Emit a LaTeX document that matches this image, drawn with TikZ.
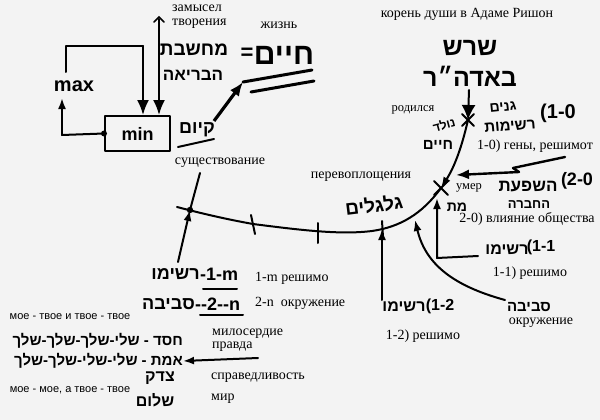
\documentclass[tikz,border=0pt]{standalone}
\usepackage{fontspec}
\setmainfont{Liberation Serif}
\newfontfamily\heb[Script=Hebrew]{Liberation Sans}
\newfontfamily\sansf{Liberation Sans}
\TeXXeTstate=1
\usetikzlibrary{arrows.meta,calc}
\definecolor{bg}{RGB}{243,243,243}
\newcommand\hb[2]{{\heb\bfseries\fontsize{#1}{#1}\selectfont\beginR #2\endR}}
\newcommand\lt[2]{{\sansf\bfseries\fontsize{#1}{#1}\selectfont #2}}
\begin{document}
\begin{tikzpicture}[x=1pt,y=-1pt,
  ln/.style={line width=2pt, line cap=round, line join=round},
  thk/.style={line width=3pt, line cap=round},
  arr/.style={ln, -{Latex[length=11pt,width=8pt]}},
  bigarr/.style={ln, -{Latex[length=15pt,width=12pt]}},
  lbl/.style={font=\fontsize{14}{16}\selectfont, inner sep=0pt},
  smlbl/.style={font=\fontsize{12.5}{14}\selectfont, inner sep=0pt},
  sm/.style={font=\sansf\fontsize{11}{13}\selectfont, inner sep=0pt},
  hw/.style={inner sep=0pt}]
\useasboundingbox[fill=bg] (0,0) rectangle (600,420);

% ---------- top left: min / max loop ----------
\node[draw, ln, minimum width=65pt, minimum height=35pt, inner sep=0pt] (minb) at (137.5,133.5) {};
\node[hw] (mintxt) at (minb.center) {\lt{18}{min}};
\node[hw] (maxtxt) at (74,86) {\lt{20}{max}};
\fill (minb.west) circle (3pt);
\coordinate (lp1) at (62,135);
\coordinate (lp2) at (62,98);
\coordinate (lp3) at (66,72);
\coordinate (lp4) at (66,46);
\coordinate (lp5) at (143,46);
\draw[ln] (minb.west) -- (lp1);
\draw[arr] (lp1) -- (lp2);
\draw[ln] (lp3) -- (lp4) -- (lp5);
\draw[bigarr] (lp5) -- (lp5 |- minb.north);

% ---------- замысел творения ----------
\coordinate (zt) at (159,19);
\draw[bigarr] (zt) -- (zt |- minb.north);
\draw[line width=1.5pt, line cap=round] (154,22) -- (159,17) -- (164,22);
\node[lbl, anchor=west] (zam1) at (172,8) {замысел};
\node[lbl, anchor=west] (zam2) at (172,24) {творения};
\node[hw] (mach) at (194,50) {\hb{19}{מחשבת}};
\node[hw] (bria) at (193,75) {\hb{17}{הבריאה}};

% ---------- жизнь ----------
\node[lbl] (zhizn) at (279,25) {жизнь};
\node[hw] (eq) at (247,54) {\lt{22}{=}};
\node[hw] (chaim) at (284,55) {\hb{30}{חיים}};
\coordinate (l1a) at (243,82); \coordinate (l1b) at (312,70);
\coordinate (l2a) at (251,92); \coordinate (l2b) at (314,81);
\draw[thk] (l1a) -- (l1b);
\draw[thk] (l2a) -- (l2b);

% ---------- קיום / существование ----------
\node[hw] (kiyum) at (197,130) {\hb{18}{קיום}};
\draw[ln] (178,147) -- (214,139);
\coordinate (ka) at (214,121);
\draw[line width=3.2pt, -{Latex[length=14pt,width=11pt]}] (ka) -- (l1a);
\node[lbl] (sush) at (220,163) {существование};

% ---------- main curve ----------
\coordinate (born) at (468,120);
\coordinate (died) at (441,188);
\coordinate (dot) at (190,210);
\draw[ln, -{Latex[length=11pt,width=8pt]}] (born) .. controls (462,146) and (455,166) .. (died);
\draw[ln] (died) .. controls (422,214) and (400,227) .. (372,231)
              .. controls (340,235) and (300,230) .. (253,224)
              .. controls (225,219) and (200,213) .. (177,207);
\fill (dot) circle (3.2pt);
% crosses
\draw[ln] ($(born)+(-6,-6)$) -- ($(born)+(6,6)$);
\draw[ln] ($(born)+(6,-6)$) -- ($(born)+(-6,6)$);
\draw[ln] ($(died)+(-7,-7)$) -- ($(died)+(7,7)$);
\draw[ln] ($(died)+(7,-7)$) -- ($(died)+(-7,7)$);
% ticks
\coordinate (tk3) at (382,229);
\draw[ln] (251,215) -- (255,234);
\draw[ln] (318,223) -- (318,243);
\draw[ln] (382,221) -- (383,237);

% существование / 1-m arrow through dot
\coordinate (sb) at (200,173);
\coordinate (r1ma) at (178,262);
\draw[ln] (dot) -- (sb);
\draw[arr] (r1ma) -- (dot);

% ---------- top right ----------
\node[lbl] (koren) at (467,14) {корень души в Адаме Ришон};
\node[hw] (shoresh) at (470,48) {\hb{25}{שרש}};
\node[hw] (baadr) at (470,76) {\hb{25}{באדה״ר}};
\coordinate (ba) at (469,90);
\draw[ln, -{Latex[length=15pt,width=14pt]}] (ba) -- (born);
\node[smlbl] (rod) at (413,110) {родился};
\node[hw, rotate=15] (nolad) at (444,125) {\hb{12}{נולד}};
\node[hw] (chaim2) at (438,145) {\hb{15}{חיים}};
\node[hw, rotate=6] (genim) at (503,107) {\hb{14}{גנים}};
\node[hw, rotate=5] (reshimot) at (510,126) {\hb{15}{רשימות}};
\node[hw] (n10) at (558,113) {\lt{20}{(1-0}};
\node[lbl] (gen) at (535,146) {1-0) гены, решимот};
\coordinate (zz) at (565,157);
\draw[line width=2.4pt, line cap=round, line join=round, -{Latex[length=13pt,width=10pt]}]
   (zz) -- (513,168) -- (519,172) -- (456,175);
\node[hw] (hashpaat) at (528,187) {\hb{17}{השפעת}};
\node[hw] (n20) at (577,181) {\lt{18}{(2-0}};
\node[hw] (chevra) at (529,205) {\hb{13}{החברה}};
\node[smlbl] (umer) at (469,188) {умер};
\node[hw] (met) at (457,207) {\hb{14}{מת}};
\node[lbl] (vli) at (527,219) {2-0) влияние общества};

% ---------- перевоплощения ----------
\node[lbl] (perev) at (361,177) {перевоплощения};
\node[hw, rotate=7] (gilgul) at (374,205) {\hb{19}{גלגלים}};

% ---------- arrows from below ----------
\node[hw] (r11h) at (507,250) {\hb{16}{רשימו}};
\node[hw] (r11n) at (541,247) {\lt{16}{(1-1}};
\node[lbl] (r11) at (530,273) {1-1) решимо};
\coordinate (a11) at (478,256);
\draw[arr] (a11) -- (437,258) -- (437,198);

\node[hw] (r12h) at (404,307) {\hb{16}{רשימו}};
\node[hw] (r12n) at (440,306) {\lt{16}{(1-2}};
\node[lbl] (r12) at (423,336) {1-2) решимо};
\coordinate (a12) at (382,300);
\draw[arr] (a12) -- (tk3);

\node[hw] (sviva) at (529,307) {\hb{15}{סביבה}};
\node[lbl] (okr) at (541,323) {окружение};
\coordinate (asv) at (505,300);
\draw[arr] (asv) .. controls (450,285) and (425,262) .. (415,220);

% ---------- bottom left ----------
\node[hw, anchor=east] (r1mh) at (200,274) {\hb{18}{רשימו}};
\node[hw, anchor=west] (r1mn) at (200,274) {\lt{18}{-1-m}};
\draw[ln] (203,289) -- (237,289);
\node[hw, anchor=east] (s2nh) at (195,304) {\hb{18}{סביבה}};
\node[hw, anchor=west] (s2nn) at (195,304) {\lt{18}{--2--n}};
\draw[ln] (200,315) -- (243,315);
\node[lbl, anchor=west] (r1m) at (255,278) {1-m решимо};
\node[lbl, anchor=west] (o2n) at (255,303) {2-n\ \ окружение};

\node[sm] (moe1) at (70,317) {мое - твое и твое - твое};
\node[hw, anchor=east] (chesed) at (183,341) {{\heb\bfseries\fontsize{15}{15}\selectfont\beginR חסד - שלי-שלך-שלך-שלך\endR}};
\node[hw, anchor=east] (emet) at (183,361) {{\heb\bfseries\fontsize{15}{15}\selectfont\beginR אמת - שלי-שלי-שלך-שלך\endR}};
\node[hw] (tzedek) at (160,378) {\hb{16}{צדק}};
\node[hw] (shalom) at (155,400) {\hb{16}{שלום}};
\node[sm] (moe2) at (70,390) {мое - мое, а твое - твое};
\coordinate (apr) at (258,358);
\draw[arr] (apr) -- (emet.east);
\node[lbl, anchor=west] (mil) at (212,334) {милосердие};
\node[lbl, anchor=west] (pr) at (212,347) {правда};
\node[lbl, anchor=west] (spr) at (211,378) {справедливость};
\node[lbl, anchor=west] (mir) at (211,399) {мир};
\end{tikzpicture}
\end{document}
